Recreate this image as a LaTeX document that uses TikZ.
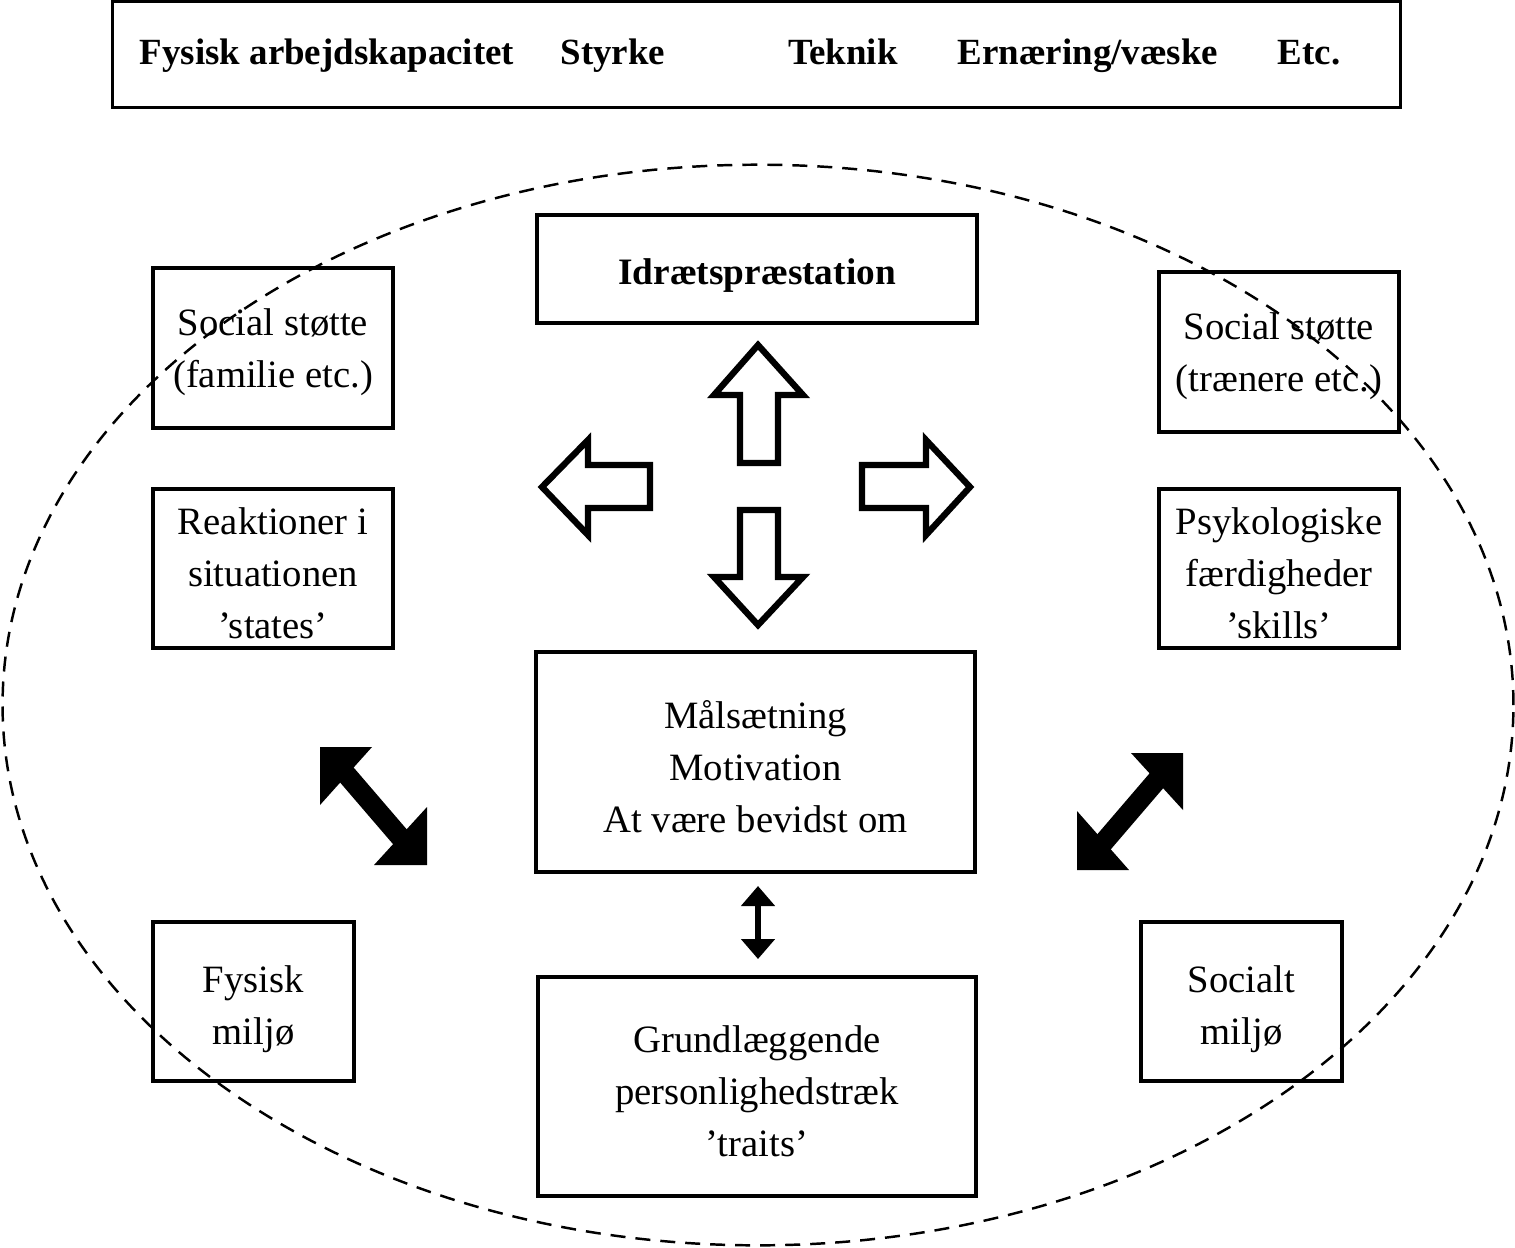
\documentclass[tikz,border=0pt]{standalone}
\usepackage{fontspec}
\setmainfont{Liberation Serif}
\usetikzlibrary{arrows.meta}
\tikzset{
  boxed/.style={draw, line width=1.15pt, inner sep=0pt, align=center},
  lbl/.style={inner sep=0pt, align=center, yshift=-0.045cm, font=\fontsize{11pt}{14.8pt}\selectfont},
  toplbl/.style={inner sep=0pt, anchor=base, font=\fontsize{10.5pt}{13pt}\selectfont\bfseries},
  hollow/.style={draw, line width=1.8pt, line join=miter, fill=white},
  solidhead/.style={fill=black},
  smallarr/.style={line width=1.5pt, {Triangle[width=0.33cm,length=0.2cm]}-{Triangle[width=0.33cm,length=0.2cm]}},
}
\begin{document}
\begin{tikzpicture}[x=0.01cm, y=-0.01cm]
\useasboundingbox (0,0) rectangle (1515,1247);
% dashed ellipse
\draw[line width=0.7pt, dash pattern=on 0.15cm off 0.1cm] (758,705) ellipse [x radius=7.55cm, y radius=5.40cm];

% top box
\node[draw, line width=0.85pt, minimum width=12.87cm, minimum height=1.05cm, inner sep=0pt] (top) at (756.5,54.5) {};
\node[toplbl] (t1) at (327,64) {Fysisk arbejdskapacitet};
\node[toplbl] (t2) at (613,64) {Styrke};
\node[toplbl] (t3) at (843,64) {Teknik};
\node[toplbl] (t4) at (1088,64) {Ernæring/væske};
\node[toplbl] (t5) at (1309,64) {Etc.};

% boxes
\node[boxed, minimum width=4.40cm, minimum height=1.08cm] (idr) at (757,269) {};
\node[inner sep=0pt, anchor=base, font=\fontsize{10.6pt}{14.8pt}\selectfont\bfseries] (idrt) at (757,284) {Idrætspræstation};
\node[boxed, minimum width=2.40cm, minimum height=1.60cm] (ssf) at (273,348) {};
\node[lbl] at (ssf) {Social støtte\\(familie etc.)};
\node[boxed, minimum width=2.40cm, minimum height=1.60cm] (sst) at (1279,352) {};
\node[lbl] at (sst) {Social støtte\\(trænere etc.)};
\node[boxed, minimum width=2.40cm, minimum height=1.59cm] (rea) at (273,568.5) {};
\node[lbl] at (rea) {Reaktioner i\\situationen\\’states’};
\node[boxed, minimum width=2.40cm, minimum height=1.59cm] (psy) at (1279,568.5) {};
\node[lbl] at (psy) {Psykologiske\\færdigheder\\’skills’};
\node[boxed, minimum width=4.39cm, minimum height=2.20cm] (mal) at (755.5,762) {};
\node[lbl] at (mal) {Målsætning\\Motivation\\At være bevidst om};
\node[boxed, minimum width=2.01cm, minimum height=1.59cm] (fys) at (253.5,1001.5) {};
\node[lbl, yshift=-0.03cm] at (fys) {Fysisk\\miljø};
\node[boxed, minimum width=2.01cm, minimum height=1.59cm] (soc) at (1241.5,1001.5) {};
\node[lbl, yshift=-0.03cm] at (soc) {Socialt\\miljø};
\node[boxed, minimum width=4.38cm, minimum height=2.19cm] (gru) at (757,1086.5) {};
\node[lbl] at (gru) {Grundlæggende\\personlighedstræk\\’traits’};

% hollow block arrows
\draw[hollow] (758,345) -- (803,395) -- (778,395) -- (778,463) -- (740,463) -- (740,395) -- (714,395) -- cycle;
\draw[hollow] (740,510) -- (778,510) -- (778,577) -- (803,577) -- (758,625) -- (714,577) -- (740,577) -- cycle;
\draw[hollow] (542,487) -- (588,440) -- (588,465) -- (650,465) -- (650,508) -- (588,508) -- (588,535) -- cycle;
\draw[hollow] (862,465) -- (926,465) -- (926,440) -- (970,487) -- (926,535) -- (926,508) -- (862,508) -- cycle;

% solid diagonal double arrows
\coordinate (la) at (340,767);
\coordinate (lb) at (407,845);
\draw[line width=0.2cm] (la) -- (lb);
\fill[solidhead] (320,747) -- (372,747) -- (320,805) -- cycle;
\fill[solidhead] (427,865) -- (427,807) -- (374,865) -- cycle;
\coordinate (ra) at (1163,773);
\coordinate (rb) at (1097,850);
\draw[line width=0.2cm] (ra) -- (rb);
\fill[solidhead] (1183,753) -- (1131,753) -- (1183,810) -- cycle;
\fill[solidhead] (1077,870) -- (1077,811) -- (1129,870) -- cycle;

% small vertical double arrow
\coordinate (sa) at (758,886);
\coordinate (sb) at (758,959);
\draw[smallarr] (sa) -- (sb);
\end{tikzpicture}
\end{document}
